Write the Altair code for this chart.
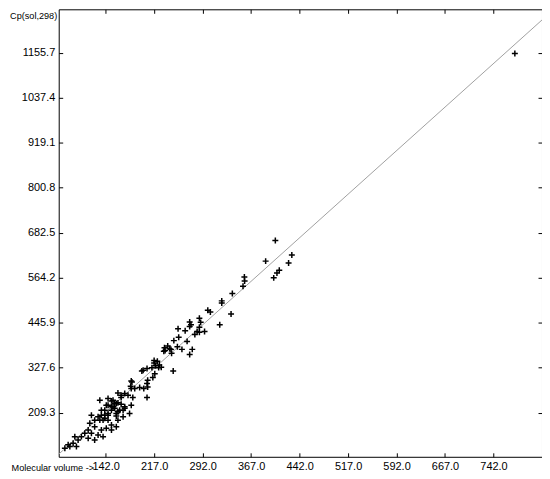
import altair as alt
import pandas as pd

# Scatter data: molecular volume vs Cp(sol,298)
volume = [775, 404.5, 389.5, 430, 425, 410.6, 407, 402, 356.6, 357, 354.5, 338, 321.6, 321.6,
          300, 304, 336, 318.5, 287, 289, 287, 295, 287, 272, 274, 272, 283.5, 280, 254, 265,
          255, 268, 247.5, 238, 234, 243, 232, 253, 260, 244, 276, 272, 217, 222, 219, 224,
          228, 213.6, 200, 206, 246.5, 218, 215, 206, 206, 207, 198, 217, 225, 207, 181.6,
          181.6, 187, 194.6, 201, 233, 241, 161, 166, 171.5, 184, 133, 151, 156, 161, 145.7,
          153.4, 166, 171.5, 181.6, 140.6, 151, 161, 169, 135.4, 145.7, 158.5, 133, 140.6,
          182.7, 180.7, 166, 176.6, 145.7, 153.4, 158.5, 151, 143, 163.7, 171.5, 179, 158.5,
          169, 135.4, 140.6, 130.3, 138, 120, 125, 117.5, 125, 145.7, 151, 143, 135.4, 151,
          158.5, 161, 115, 109.7, 120, 104.5, 115, 99.4, 130.3, 125, 138, 94.3, 91.7, 84,
          96.8, 78.9, 86.6, 145.7, 156]
cp = [1154, 662, 608, 624, 603, 584, 577, 564, 566, 556, 542, 523, 503.5, 498,
      479, 474, 469, 441, 458, 447, 434, 423, 421, 448, 441, 436, 423, 415, 430, 425,
      408, 397, 399, 385, 373, 376, 371, 383, 376, 366, 376, 362.5, 347, 345, 333, 328,
      329, 328, 321, 326, 319, 312, 302, 249.5, 286, 295, 319, 340, 335, 277, 293,
      273, 273, 275.6, 273, 380, 377.4, 261.5, 255.5, 260, 249.5, 242.4, 240.6, 234, 235.4, 229.4,
      225, 232, 225, 229.4, 216, 216, 212, 216, 203, 203, 200.7, 190, 194.7,
      290, 279, 249.5, 255.5, 247, 242.4, 234, 225, 229.4, 216, 221, 207.7, 207.7,
      199, 216, 203, 199, 190, 203, 190, 181.6, 172.7, 190, 177, 168.5, 164, 164,
      172.7, 190, 164, 155.5, 155.5, 146.6, 142.4, 138, 151, 138, 146.6, 146.6, 129.4, 125,
      120.5, 116.3, 120.5, 207.7, 221]

# Fitted diagonal line (end points)
fit_volume = [69.4, 817.0]
fit_cp = [100.5, 1242.0]

# Axis ticks
x_ticks = [142.0, 217.0, 292.0, 367.0, 442.0, 517.0, 592.0, 667.0, 742.0]
x_ticks_top = x_ticks + [817.0]
y_ticks = [209.3, 327.6, 445.9, 564.2, 682.5, 800.8, 919.1, 1037.4, 1155.7]
x_domain = [69.4, 817.0]
y_domain = [93.6, 1270.0]

pts = pd.DataFrame({"volume": volume, "cp": cp})
fit = pd.DataFrame({"volume": fit_volume, "cp": fit_cp})

plus = "M-1,0L1,0M0,-1L0,1"
FONT = "Liberation Sans"

xs = alt.Scale(domain=x_domain, nice=False, zero=False)
ys = alt.Scale(domain=y_domain, nice=False, zero=False)

common = dict(domain=False, grid=False, ticks=True, tickSize=4, tickColor="black",
              tickWidth=1, offset=-4, labelFont=FONT, labelFontSize=11, labelColor="black")

x_axis = alt.Axis(values=x_ticks, format=".1f", labelPadding=4, labelAngle=0,
                  title="Molecular volume ->", titleX=35, titleY=18, titleAlign="right",
                  titleBaseline="alphabetic", titleFont=FONT, titleFontSize=9.2,
                  titleFontWeight="normal", titleColor="black", **common)
y_axis = alt.Axis(values=y_ticks, format=".1f", labelPadding=4,
                  title="Cp(sol,298)", titleAngle=0, titleX=-6, titleY=9, titleAlign="right",
                  titleBaseline="alphabetic", titleFont=FONT, titleFontSize=9.2,
                  titleFontWeight="normal", titleColor="black", **common)
x_top = alt.Axis(orient="top", values=x_ticks_top, labels=False, title="", **common)
y_right = alt.Axis(orient="right", values=y_ticks, labels=False, title="", **common)

points = alt.Chart(pts).mark_point(
    shape=plus, filled=False, stroke="black", strokeWidth=1.5, size=36, opacity=1
).encode(
    x=alt.X("volume:Q", scale=xs, axis=x_axis),
    y=alt.Y("cp:Q", scale=ys, axis=y_axis),
)

line = alt.Chart(fit).mark_line(color="#a0a0a0", strokeWidth=1).encode(
    x=alt.X("volume:Q", scale=xs, axis=x_top),
    y=alt.Y("cp:Q", scale=ys, axis=y_right),
)

chart = alt.layer(line, points).resolve_axis(
    x="independent", y="independent"
).properties(
    width=486, height=450,
    autosize=alt.AutoSizeParams(type="none"),
    padding={"left": 51, "top": 0, "right": 0, "bottom": 20},
    background="white",
).configure_view(stroke="black", strokeWidth=1)

chart.save("out.html", embed_options={"renderer": "svg", "actions": False})
